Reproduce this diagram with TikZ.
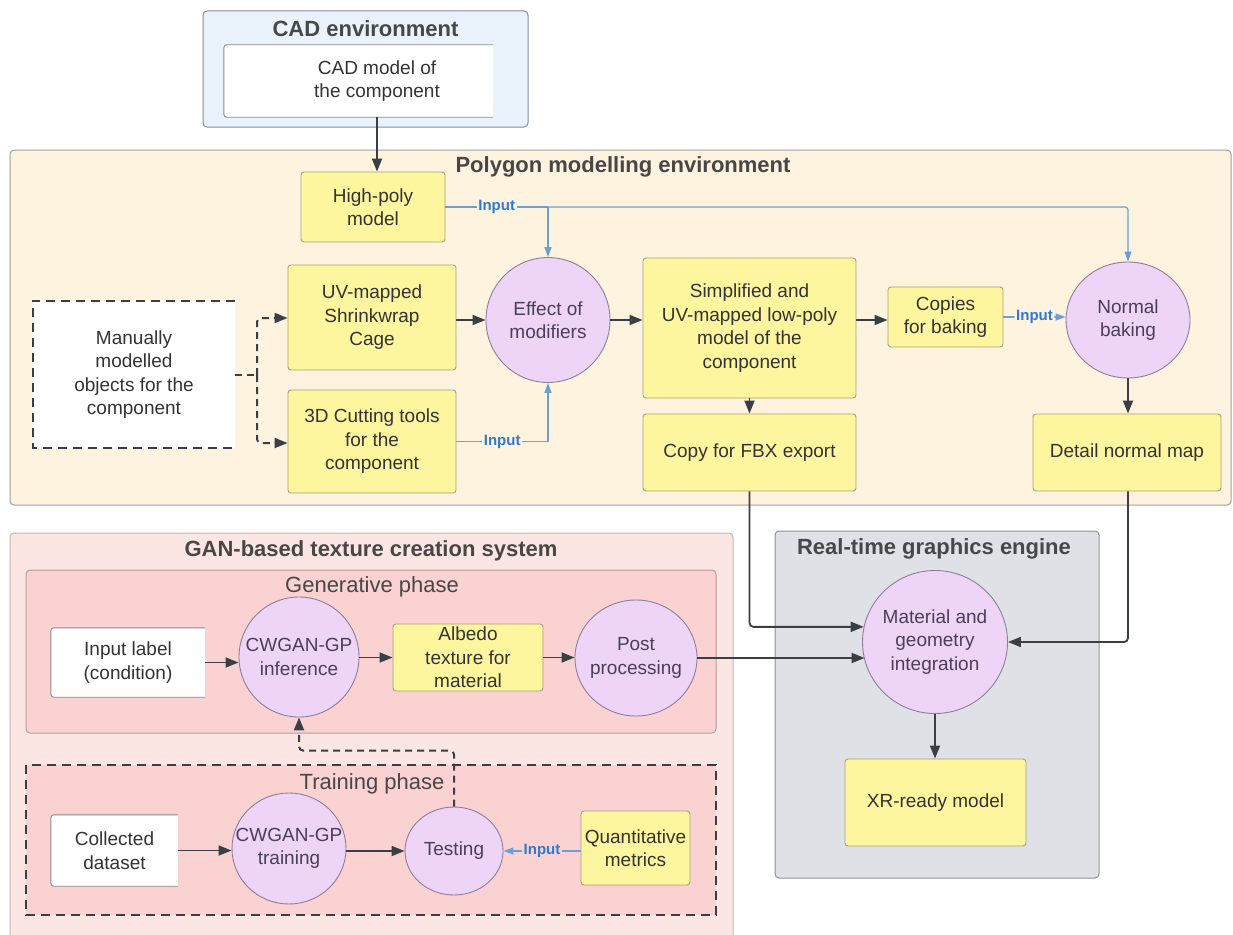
\documentclass[tikz,border=0pt]{standalone}
\usepackage{fontspec}
\setmainfont{Liberation Sans}
\usetikzlibrary{arrows.meta,shapes.geometric,calc}
\definecolor{cadfill}{HTML}{EAF2FC}
\definecolor{cadborder}{HTML}{7F8FA6}
\definecolor{polyfill}{HTML}{FDF3DE}
\definecolor{polyborder}{HTML}{A0A0A0}
\definecolor{yfill}{HTML}{FEF59F}
\definecolor{yborder}{HTML}{A6A27A}
\definecolor{cfill}{HTML}{EED5F8}
\definecolor{cborder}{HTML}{8C7F99}
\definecolor{ganfill}{HTML}{FCE6E4}
\definecolor{ganborder}{HTML}{C9B3B1}
\definecolor{phfill}{HTML}{F9D2D1}
\definecolor{phborder}{HTML}{B89C9B}
\definecolor{rtefill}{HTML}{DFE1E6}
\definecolor{rteborder}{HTML}{8E9299}
\definecolor{arrc}{HTML}{3A3F45}
\definecolor{bluet}{HTML}{2F79D2}
\definecolor{bluel}{HTML}{6E9ED6}
\definecolor{txt}{HTML}{333333}
\definecolor{ctxt}{HTML}{4A3F5A}
\begin{document}
\begin{tikzpicture}[x=1pt,y=-1pt,
 every node/.style={text=txt},
 body/.style={font=\fontsize{19}{23.5}\selectfont, align=center},
 ybox/.style={body, draw=yborder, fill=yfill, rounded corners=3pt, line width=0.9pt, inner sep=0pt},
 circ/.style={ellipse, draw=cborder, fill=cfill, line width=0.9pt, inner sep=0pt},
 ctext/.style={body, text=ctxt, inner sep=0pt},
 plain/.style={body, inner sep=0pt},
 wborder/.style={draw=black!45, line width=0.9pt, rounded corners=3pt},
 env/.style={line width=1pt, rounded corners=4pt},
 envtitle/.style={font=\bfseries\fontsize{22}{26}\selectfont, text=txt!90},
 phtitle/.style={font=\fontsize{22}{26}\selectfont, text=txt!90},
 arr/.style={draw=arrc, line width=1.8pt, -{Triangle[length=13pt,width=10pt]}},
 inarr/.style={draw=bluel, line width=1.2pt, rounded corners=3pt, -{Triangle[length=10pt,width=7pt]}},
 inln/.style={draw=bluel, line width=1.2pt},
 inlbl/.style={font=\bfseries\fontsize{15}{15}\selectfont, text=bluet, inner sep=1.5pt},
 dasharr/.style={draw=arrc, line width=2pt, dash pattern=on 7pt off 5pt, rounded corners=4pt, -{Triangle[length=13pt,width=10pt]}},
 dashbox/.style={draw=arrc, line width=2.5pt, dash pattern=on 9pt off 6pt},
]
\useasboundingbox (0,0) rectangle (1233,934);
\fill[white] (0,0) rectangle (1233,934);

% ---------- environments ----------
\draw[env, fill=cadfill, draw=cadborder] (203,11) rectangle (528,127);
\node[envtitle] (cadt) at (365.5,29) {CAD environment};

\draw[env, fill=polyfill, draw=polyborder] (10,150) rectangle (1231,505);
\node[envtitle] (polyt) at (623,167) {Polygon modelling environment};

\draw[env, fill=ganfill, draw=ganborder] (10,533) rectangle (733,950);
\node[envtitle] (gant) at (371,551) {GAN-based texture creation system};

\draw[env, fill=phfill, draw=phborder] (26,570) rectangle (716,733);
\node[phtitle] (gent) at (372,587) {Generative phase};

\fill[phfill] (26,765) rectangle (716,915);
\draw[dashbox] (26,765) rectangle (716,915);
\node[phtitle] (trt) at (372,784) {Training phase};

\draw[env, fill=rtefill, draw=rteborder] (775,531) rectangle (1099,878);
\node[envtitle] (rtet) at (934,549) {Real-time graphics engine};

% ---------- CAD ----------
\node[plain, fill=white, minimum width=269, minimum height=72] (cadbox) at (358.5,81) {};
\draw[wborder] (cadbox.north east) -- (cadbox.north west) -- (cadbox.south west) -- (cadbox.south east);
\node[plain] (cadm) at (377,81) {CAD model of\\the component};

% ---------- Polygon modelling ----------
\node[ybox, minimum width=144, minimum height=70] (hp) at (373,207) {High-poly\\model};
\node[plain, fill=white, minimum width=202, minimum height=147] (man) at (134,374.5) {Manually\\modelled\\objects for the\\component};
\draw[dashbox] (man.north east) -- (man.north west) -- (man.south west) -- (man.south east);
\node[ybox, minimum width=168, minimum height=105] (uv) at (372,317.5) {UV-mapped\\Shrinkwrap\\Cage};
\node[ybox, minimum width=168, minimum height=103] (cut) at (372,441.5) {3D Cutting tools\\for the\\component};
\node[circ, minimum width=124, minimum height=125] (eff) at (548,320) {};
\node[ctext] (efft) at (eff) {Effect of\\modifiers};
\node[ybox, minimum width=213, minimum height=140] (simp) at (749.5,328) {Simplified and\\UV-mapped low-poly\\model of the\\component};
\node[ybox, minimum width=115, minimum height=60] (cop) at (945.5,317) {Copies\\for baking};
\node[circ, minimum width=124, minimum height=116] (nb) at (1128,320) {};
\node[ctext] (nbt) at (nb) {Normal\\baking};
\node[ybox, minimum width=213, minimum height=77] (fbx) at (749.5,452.5) {Copy for FBX export};
\node[ybox, minimum width=188, minimum height=77] (dnm) at (1127,452.5) {Detail normal map};

% ---------- Real-time engine ----------
\node[circ, minimum width=145, minimum height=143] (mat) at (935,642) {};
\node[ctext] (matt) at (mat) {Material and\\geometry\\integration};
\node[ybox, minimum width=181, minimum height=87] (xr) at (935.5,802.5) {XR-ready model};

% ---------- GAN ----------
\node[plain, fill=white, minimum width=154, minimum height=69] (inl) at (128,662.5) {Input label\\(condition)};
\draw[wborder] (inl.north east) -- (inl.north west) -- (inl.south west) -- (inl.south east);
\node[circ, minimum width=120, minimum height=120] (cwi) at (299,657) {};
\node[ctext] (cwit) at (cwi) {CWGAN-GP\\inference};
\node[ybox, minimum width=150, minimum height=67] (alb) at (468,657.5) {Albedo\\texture for\\material};
\node[circ, minimum width=122, minimum height=116] (pp) at (636,658) {};
\node[ctext] (ppt) at (pp) {Post\\processing};

\node[plain, fill=white, minimum width=127, minimum height=71] (col) at (114.5,850.5) {Collected\\dataset};
\draw[wborder] (col.north east) -- (col.north west) -- (col.south west) -- (col.south east);
\node[circ, minimum width=114, minimum height=111] (cwt) at (289,848.5) {};
\node[ctext] (cwtt) at (cwt) {CWGAN-GP\\training};
\node[circ, minimum width=98, minimum height=88] (test) at (454,851) {};
\node[ctext] (testt) at (test) {Testing};
\node[ybox, minimum width=109, minimum height=74] (qm) at (635.5,848) {Quantitative\\metrics};

% ---------- connectors ----------
\draw[arr] (cadm |- cadbox.south) -- (cadm |- hp.north);

\coordinate (hpj) at (eff.north |- hp.east);
\draw[inln] (hp.east) -- node[inlbl, fill=polyfill] (in1) {Input} (hpj);
\draw[inarr] (hpj) -- (eff.north);
\draw[inarr] (hpj) -| (nb.north);

\coordinate (br) at (257,375);
\draw[draw=arrc, line width=2pt, dash pattern=on 7pt off 5pt] (man.east |- br) -- (br);
\draw[dasharr] (br) |- (uv.west |- 0,318);
\draw[dasharr] (br) |- (cut.west |- 0,443);

\draw[arr] (uv.east |- eff) -- (eff.west);
\draw[inln] (cut.east) -- node[inlbl, fill=polyfill] (in2) {Input} (cut.east -| eff.south);
\draw[inarr] (cut.east -| eff.south) -- (eff.south);
\draw[arr] (eff.east) -- (simp.west |- eff.east);
\draw[arr] (simp.east |- 0,320) -- (cop.west |- 0,320);
\draw[inarr] (cop.east) -- node[inlbl, fill=polyfill] (in3) {Input} (cop.east -| nb.west);
\draw[arr] (nb.south) -- (dnm.north -| nb.south);
\draw[arr] (simp.south) -- (fbx.north);

\draw[arr, rounded corners=4pt] (fbx.south) |- (mat.168);
\draw[arr, rounded corners=4pt] (dnm.south -| nb.south) |- (mat.east);
\draw[arr] (pp.east) -- (pp.east -| mat.195);
\draw[arr] (mat.south) -- (mat.south |- xr.north);

\draw[arr] (inl.east) -- (inl.east -| cwi.west);
\draw[arr] (cwi.east |- alb.west) -- (alb.west);
\draw[arr] (alb.east) -- (alb.east -| pp.west);
\draw[dasharr] (test.north) -- ++(0,-56) -| (cwi.south);

\draw[arr] (col.east) -- (col.east -| cwt.west);
\draw[arr] (cwt.east |- test.west) -- (test.west);
\draw[inarr] (qm.west |- test.east) -- node[inlbl, fill=phfill] (in4) {Input} (test.east);
\end{tikzpicture}
\end{document}
